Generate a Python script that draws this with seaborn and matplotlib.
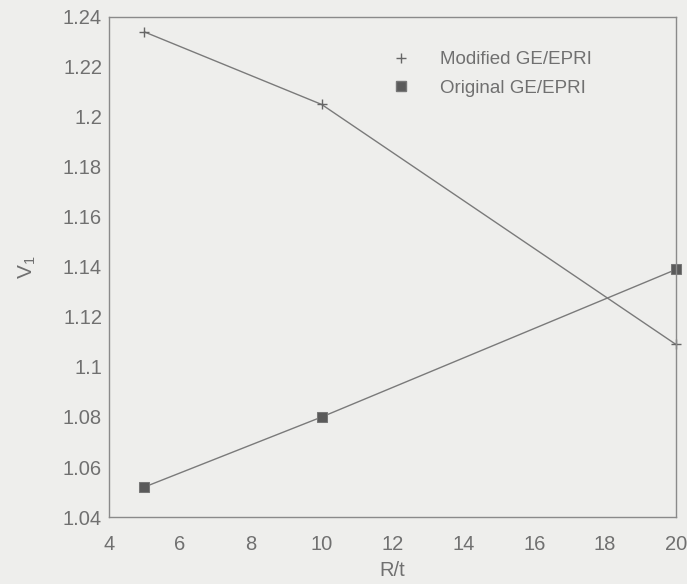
import matplotlib
matplotlib.use("Agg")
import matplotlib.pyplot as plt
import seaborn as sns
import pandas as pd
from matplotlib.lines import Line2D

r_over_t = [5, 10, 20]
modified = [1.234, 1.205, 1.109]
original = [1.052, 1.080, 1.139]
series_names = ["Modified GE/EPRI", "Original GE/EPRI"]
x_ticks = [4, 6, 8, 10, 12, 14, 16, 18, 20]
y_ticks = [1.04, 1.06, 1.08, 1.10, 1.12, 1.14, 1.16, 1.18, 1.20, 1.22, 1.24]
y_tick_labels = ["1.04", "1.06", "1.08", "1.1", "1.12", "1.14", "1.16", "1.18", "1.2", "1.22", "1.24"]

df = pd.DataFrame({
    "R/t": r_over_t * 2,
    "V1": modified + original,
    "series": [series_names[0]] * 3 + [series_names[1]] * 3,
})

sns.set_style("white")
plt.rcParams["font.family"] = ["Liberation Sans", "DejaVu Sans"]

bg = "#eeeeec"
txt = "#707070"
fig = plt.figure(figsize=(6.87, 5.84), dpi=100, facecolor=bg)
ax = fig.add_axes([0.1587, 0.1147, 0.9840 - 0.1587, 0.971 - 0.1147])
ax.set_facecolor(bg)

sns.lineplot(data=df, x="R/t", y="V1", hue="series", style="series",
             markers={series_names[0]: "P", series_names[1]: "s"},
             dashes=False, palette={series_names[0]: "#7a7a7a", series_names[1]: "#7a7a7a"},
             linewidth=1.0, ax=ax, legend=False)

lines = ax.get_lines()
lines[0].set_marker("+")
lines[0].set_markersize(7)
lines[0].set_markeredgewidth(1.0)
lines[0].set_markeredgecolor("#666666")
lines[1].set_markersize(7)
lines[1].set_markerfacecolor("#5a5a5a")
lines[1].set_markeredgecolor("#777777")
for ln in lines:
    ln.set_clip_on(False)

ax.set_xlim(4, 20)
ax.set_ylim(1.04, 1.24)
ax.set_xticks(x_ticks)
ax.set_yticks(y_ticks)
ax.set_yticklabels(y_tick_labels)

for s in ax.spines.values():
    s.set_color("#8a8a8a")
    s.set_linewidth(1.0)

ax.tick_params(axis="both", colors="#8a8a8a", labelcolor=txt, labelsize=14.5,
               direction="inout", length=6, width=1.0)
ax.tick_params(axis="x", pad=10)
ax.tick_params(axis="y", pad=2)

ax.set_xlabel("R/t", fontsize=14.5, color=txt, labelpad=5)
ax.set_ylabel(r"V$_\mathregular{1}$", fontsize=15, color=txt, labelpad=18, rotation=90)

handles = [
    Line2D([], [], marker="+", linestyle="none", color="#666666", markersize=7),
    Line2D([], [], marker="s", linestyle="none", markerfacecolor="#5a5a5a",
           markeredgecolor="#777777", markersize=7),
]
leg = ax.legend(handles, series_names, loc="upper left", bbox_to_anchor=(0.468, 0.965),
                frameon=False, fontsize=13.5, handletextpad=1.6, handlelength=1.0,
                labelspacing=0.6)
for t in leg.get_texts():
    t.set_color(txt)

fig.savefig("out.png", dpi=100, facecolor=bg)
